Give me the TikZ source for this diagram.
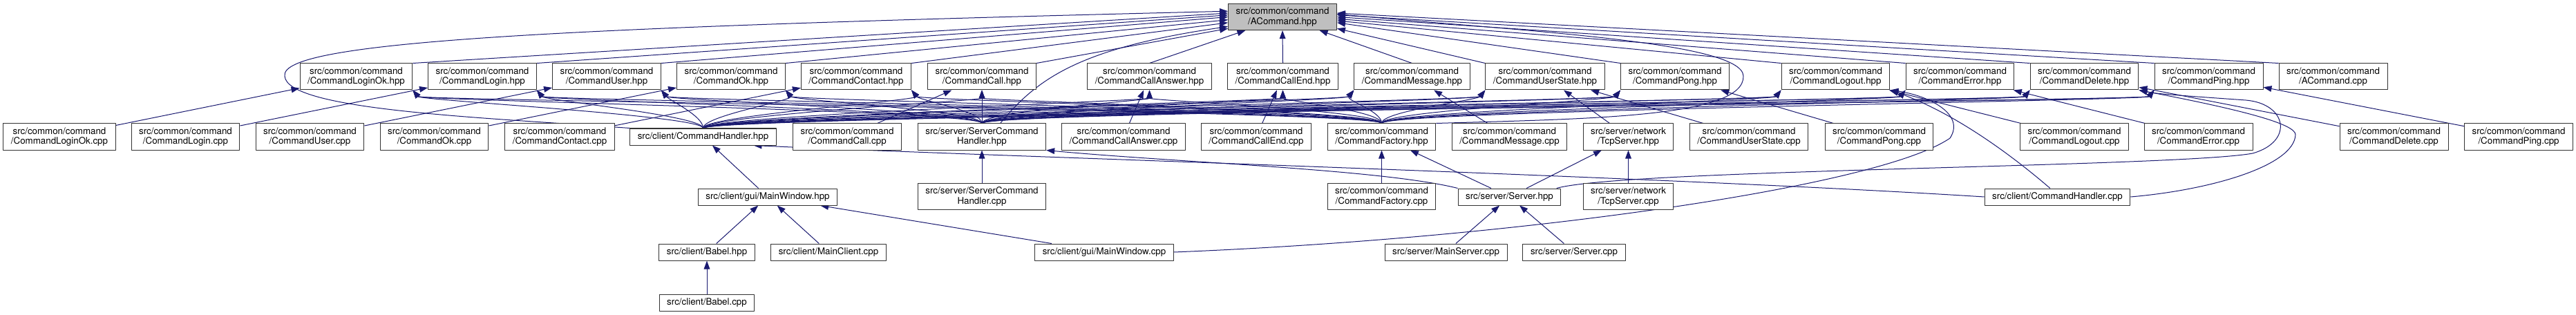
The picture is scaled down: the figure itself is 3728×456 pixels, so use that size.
\documentclass[tikz,border=0pt]{standalone}
\usepackage{fontspec}
\setmainfont{TeX Gyre Heros}
\usetikzlibrary{arrows.meta}
\definecolor{edgeblue}{HTML}{191970}
\definecolor{nodegray}{HTML}{BFBFBF}
\pgfdeclarelayer{bg}
\pgfsetlayers{bg,main}
\begin{document}
\begin{tikzpicture}[x=0.75pt,y=-0.75pt,line join=round,font=\fontsize{10}{10.7}\selectfont,
	>={Triangle[length=9pt,width=6.5pt]},
	file/.style={draw=black!80,line width=0.75pt,fill=white,inner xsep=8.3pt,inner ysep=1pt,minimum height=18pt,align=center},
	two/.style={minimum height=28.5pt},
	dep/.style={edgeblue,line width=0.75pt,->}]
	\useasboundingbox (0,0) rectangle (3728,456);
	\node[file,two,fill=nodegray] (acmd) at (1856,24.5) {src/common/command\\/ACommand.hpp};
	% headers and their sources
	\foreach \n/\x in {LoginOk/515.5,Login/698,User/878,Ok/1058,Contact/1239,Call/1421,CallAnswer/1663.5,CallEnd/1856.5,Message/2043.5,UserState/2236,Pong/2424,Logout/2656.5,Error/2836.5,Delete/3016.5,Ping/3196.5}
		\node[file,two] (\n-h) at (\x,111) {src/common/command\\/Command\n.hpp};
	\node[file,two] (acmdcpp) at (3376.5,111) {src/common/command\\/ACommand.cpp};
	\foreach \n/\x in {LoginOk/86,Login/268.5,User/448.5,Ok/628.5,Contact/810,Call/1226,CallAnswer/1626,CallEnd/1818,Message/2184.5,UserState/2531,Pong/2719.5,Logout/3002,Error/3181.5,Delete/3464.5,Ping/3645}
		\node[file,two] (\n-c) at (\x,198) {src/common/command\\/Command\n.cpp};
	\node[file] (chh) at (1017.5,198) {src/client/CommandHandler.hpp};
	\node[file,two] (sch) at (1421,198) {src/server/ServerCommand\\Handler.hpp};
	\node[file,two] (cf) at (1999.5,198) {src/common/command\\/CommandFactory.hpp};
	\node[file,two] (tcp) at (2356.5,198) {src/server/network\\/TcpServer.hpp};
	\node[file] (mwh) at (1111,285) {src/client/gui/MainWindow.hpp};
	\node[file,two] (schcpp) at (1421,284.5) {src/server/ServerCommand\\Handler.cpp};
	\node[file,two] (cfcpp) at (1999.5,284.5) {src/common/command\\/CommandFactory.cpp};
	\node[file] (srv) at (2184.5,285) {src/server/Server.hpp};
	\node[file,two] (tcpcpp) at (2356.5,284.5) {src/server/network\\/TcpServer.cpp};
	\node[file] (chcpp) at (2977.5,285) {src/client/CommandHandler.cpp};
	\node[file] (babelh) at (1023,365) {src/client/Babel.hpp};
	\node[file] (mainclient) at (1199,365) {src/client/MainClient.cpp};
	\node[file] (mwcpp) at (1598,365) {src/client/gui/MainWindow.cpp};
	\node[file] (mainsrv) at (2092.5,365) {src/server/MainServer.cpp};
	\node[file] (srvcpp) at (2278,365) {src/server/Server.cpp};
	\node[file] (babelcpp) at (1023,438) {src/client/Babel.cpp};
	\begin{pgfonlayer}{bg}
		\foreach \n/\a/\e in {LoginOk/north east/176,Login/north east/178,User/north east/180,Ok/north east/183,Contact/north east/186,Call/north east/192,CallAnswer/north/200,CallEnd/north/270,Message/north/340,UserState/north west/348,Pong/north west/354,Logout/north west/356,Error/north west/358,Delete/north west/0,Ping/north west/2}
			\draw[dep] (\n-h.\a) -- (acmd.\e);
		\draw[dep] (acmdcpp.north west) -- (acmd.4);
		\foreach \n/\t/\o in {LoginOk/south east/12,Login/south east/12,User/south east/12,Ok/south east/12,Contact/south east/12,Call/south/0,CallAnswer/south/0,CallEnd/south/0,Message/south west/-12,UserState/south west/-12,Pong/south west/-12,Logout/south west/-12,Error/south west/-12,Delete/south west/-12,Ping/south west/-12}{
			\draw[dep] (\n-c) -- (\n-h);
			\foreach \s in {chh,sch,cf}
				\draw[dep] (\s.north) .. controls +(0,-18) and +(\o,15) .. (\n-h.\t);
		}
		% long ways round
		\draw[dep] (chh.north west) .. controls (700,170) and (415,160) .. (412,110) .. controls (405,60) and (800,40) .. (acmd.174);
		\draw[dep] ([xshift=20pt]sch.north) .. controls (1500,115) and (1560,70) .. (acmd.190);
		\draw[dep] (cf.north east) .. controls (2300,172) and (2525,170) .. (2523,110) .. controls (2521,60) and (2200,45) .. (acmd.3);
		\draw[dep] (srv.north west) .. controls (2000,245) and (1700,235) .. (sch.south east);
		\draw[dep] (chcpp.west) .. controls (2400,255) and (1400,225) .. ([xshift=-25pt]chh.south east);
		\draw[dep] (mwcpp.east) .. controls (2200,345) and (2720,270) .. (2822,200) .. controls (2845,165) and (2790,138) .. (Logout-h.south east);
		\draw[dep] ([xshift=-8pt]chcpp.north) .. controls (2900,215) and (2820,160) .. (Logout-h.south east);
		\draw[dep] ([xshift=-5pt]srv.north east) .. controls (2350,245) and (3150,242) .. (3260,222) .. controls (3320,205) and (3310,150) .. (3250,145) .. controls (3180,140) and (3120,136) .. (Delete-h.south east);
		\draw[dep] (chcpp.east) .. controls (3200,275) and (3320,240) .. (3322,195) .. controls (3322,180) and (3250,160) .. (Delete-h.south east);
		\foreach \a/\b in {tcp/UserState-h,srv/cf,srv/tcp,cfcpp/cf,tcpcpp/tcp,mainsrv/srv,srvcpp/srv,schcpp/sch,mwh/chh,babelh/mwh,mainclient/mwh,mwcpp/mwh,babelcpp/babelh}
			\draw[dep] (\a) -- (\b);
	\end{pgfonlayer}
\end{tikzpicture}
\end{document}
